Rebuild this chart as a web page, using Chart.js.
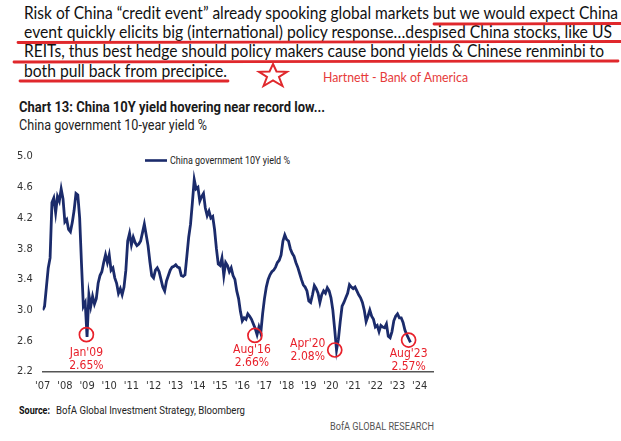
<!DOCTYPE html>
<html>
<head>
<meta charset="utf-8">
<script src="https://cdn.jsdelivr.net/npm/chart.js@4.4.0/dist/chart.umd.min.js"></script>
<style>
  body { margin: 0; width: 621px; height: 441px; background: #fff; position: relative; overflow: hidden; }
  #page { position: absolute; left: 0; top: 0; }
  #chartBox { position: absolute; left: 0; top: 140px; width: 621px; height: 260px; }
</style>
</head>
<body>
<svg id="page" width="621" height="441" xmlns="http://www.w3.org/2000/svg">
  <g font-family="Lato, 'Open Sans', sans-serif" font-size="18" fill="#111">
    <text x="24" y="18.5" textLength="594" lengthAdjust="spacingAndGlyphs">Risk of China “credit event” already spooking global markets but we would expect China</text>
    <text x="24" y="37.8" textLength="588" lengthAdjust="spacingAndGlyphs">event quickly elicits big (international) policy response…despised China stocks, like US</text>
    <text x="24" y="57.2" textLength="580" lengthAdjust="spacingAndGlyphs">REITs, thus best hedge should policy makers cause bond yields &amp; Chinese renminbi to</text>
    <text x="24" y="76.5" textLength="203" lengthAdjust="spacingAndGlyphs">both pull back from precipice.</text>
  </g>
  <g stroke="#e0282c" stroke-width="2.8" stroke-linecap="round">
    <line x1="434" y1="24" x2="621" y2="23.5"/>
    <line x1="18" y1="42.5" x2="621" y2="41.5"/>
    <line x1="14" y1="62" x2="618" y2="61"/>
    <line x1="20" y1="81" x2="228" y2="81"/>
  </g>
  <polygon points="273,64 276.5,71.5 287,71.8 279,77 282.5,86 273,80.5 263.5,86 267,77 259,71.8 269.5,71.5"
           fill="none" stroke="#e0282c" stroke-width="2"/>
  <text x="323" y="81.5" font-family="Lato, sans-serif" font-size="13" fill="#e63a3a" textLength="145" lengthAdjust="spacingAndGlyphs">Hartnett - Bank of America</text>

  <text x="19" y="111.7" font-family="Roboto, 'Liberation Sans', sans-serif" font-weight="bold" font-size="14" fill="#1a1a1a" textLength="306" lengthAdjust="spacingAndGlyphs">Chart 13: China 10Y yield hovering near record low...</text>
  <text x="19" y="130" font-family="Roboto, 'Liberation Sans', sans-serif" font-size="14" fill="#222" textLength="188" lengthAdjust="spacingAndGlyphs">China government 10-year yield %</text>

  <line x1="145" y1="160.5" x2="167" y2="160.5" stroke="#1b2b6b" stroke-width="2.6"/>
  <text x="170" y="164.3" font-family="Roboto, sans-serif" font-size="11" fill="#222" textLength="120" lengthAdjust="spacingAndGlyphs">China government 10Y yield %</text>

  <text x="19" y="414" font-family="Roboto, sans-serif" font-weight="bold" font-size="11" fill="#111" textLength="31" lengthAdjust="spacingAndGlyphs">Source:</text>
  <text x="56" y="414" font-family="Roboto, sans-serif" font-size="11" fill="#222" textLength="189" lengthAdjust="spacingAndGlyphs">BofA Global Investment Strategy, Bloomberg</text>
  <text x="330" y="430" font-family="Roboto, sans-serif" font-size="11" fill="#555" textLength="104" lengthAdjust="spacingAndGlyphs">BofA GLOBAL RESEARCH</text>
</svg>
<div id="chartBox"><canvas id="c" width="621" height="260"></canvas></div>
<script>
// monthly China 10Y yields (%)
const y2007 = [3.00, 3.05, 3.30, 3.55, 3.68, 4.40, 4.46, 4.27, 4.48, 4.42, 4.58, 4.45];
const y2008 = [4.15, 4.18, 4.05, 4.02, 4.14, 4.30, 4.52, 4.50, 4.20, 3.60, 3.05, 3.10];
const y2009 = [2.65, 3.20, 3.05, 3.18, 3.08, 3.15, 3.35, 3.45, 3.50, 3.62, 3.72, 3.62];
const y2010 = [3.72, 3.52, 3.55, 3.42, 3.35, 3.22, 3.28, 3.20, 3.30, 3.52, 3.90, 4.00];
const y2011 = [3.85, 3.95, 3.88, 3.84, 3.86, 3.90, 4.01, 4.12, 3.98, 3.84, 3.63, 3.45];
const y2012 = [3.42, 3.52, 3.55, 3.50, 3.40, 3.30, 3.25, 3.38, 3.45, 3.52, 3.56, 3.57];
const y2013 = [3.59, 3.56, 3.55, 3.45, 3.44, 3.46, 3.70, 3.95, 4.12, 4.40, 4.70, 4.58];
const y2014 = [4.60, 4.42, 4.48, 4.52, 4.33, 4.23, 4.29, 4.20, 4.22, 4.05, 3.80, 3.60];
const y2015 = [3.58, 3.68, 3.45, 3.62, 3.58, 3.50, 3.55, 3.45, 3.40, 3.25, 3.15, 2.98];
const y2016 = [2.86, 2.90, 2.88, 2.95, 2.92, 2.88, 2.82, 2.76, 2.68, 2.78, 2.70, 2.95];
const y2017 = [3.15, 3.30, 3.40, 3.46, 3.50, 3.52, 3.56, 3.62, 3.65, 3.72, 3.90, 3.98];
const y2018 = [3.92, 3.90, 3.80, 3.74, 3.70, 3.62, 3.56, 3.48, 3.40, 3.33, 3.30, 3.25];
const y2019 = [3.12, 3.10, 3.20, 3.32, 3.28, 3.22, 3.10, 3.20, 3.25, 3.22, 3.29, 3.25];
const y2020 = [3.16, 3.00, 2.75, 2.48, 2.62, 2.85, 3.05, 3.10, 3.16, 3.22, 3.33, 3.30];
const y2021 = [3.28, 3.30, 3.25, 3.20, 3.16, 3.10, 3.00, 2.85, 2.92, 3.00, 2.92, 2.88];
const y2022 = [2.78, 2.80, 2.72, 2.80, 2.78, 2.77, 2.82, 2.66, 2.64, 2.72, 2.86, 2.92];
const y2023 = [2.95, 2.90, 2.90, 2.84, 2.74, 2.68, 2.63, 2.58];

const years = [2007, 2008, 2009, 2010, 2011, 2012, 2013, 2014, 2015, 2016, 2017, 2018, 2019, 2020, 2021, 2022, 2023];
const yearValues = [y2007, y2008, y2009, y2010, y2011, y2012, y2013, y2014, y2015, y2016, y2017, y2018, y2019, y2020, y2021, y2022, y2023];

const xTicks = [2007, 2008, 2009, 2010, 2011, 2012, 2013, 2014, 2015, 2016, 2017, 2018, 2019, 2020, 2021, 2022, 2023, 2024];
const xTickLabels = ["'07", "'08", "'09", "'10", "'11", "'12", "'13", "'14", "'15", "'16", "'17", "'18", "'19", "'20", "'21", "'22", "'23", "'24"];
const yTicks = [2.2, 2.6, 3.0, 3.4, 3.8, 4.2, 4.6, 5.0];

// marked lows
const lowNames = ["Jan'09", "Aug'16", "Apr'20", "Aug'23"];
const lowTexts = ['2.65%', '2.66%', '2.08%', '2.57%'];
const lowDates = [2008.97, 2016.57, 2020.17, 2023.5];
const lowLevels = [2.68, 2.67, 2.48, 2.61];
const lowLabelShift = [[0, 18], [-3, 14], [-27, -6], [0, 13.5]];

const points = [];
years.forEach((yr, i) => {
    yearValues[i].forEach((v, m) => points.push({ x: yr + m / 12, y: v }));
});

const condensed = "'Liberation Sans Narrow', 'DejaVu Sans Condensed', Roboto, sans-serif";

const lowMarks = {
    id: 'lowMarks',
    afterDatasetsDraw(chart) {
        const { ctx, scales } = chart;
        ctx.save();
        lowNames.forEach((name, i) => {
            const px = scales.x.getPixelForValue(lowDates[i]);
            const py = scales.y.getPixelForValue(lowLevels[i]);
            ctx.strokeStyle = '#e8202a';
            ctx.lineWidth = 1.7;
            ctx.beginPath();
            ctx.arc(px, py, 7, 0, Math.PI * 2);
            ctx.stroke();
            ctx.fillStyle = '#e8202a';
            ctx.font = '12px ' + condensed;
            ctx.textAlign = 'center';
            ctx.textBaseline = 'middle';
            const tx = px + lowLabelShift[i][0];
            const ty = py + lowLabelShift[i][1];
            ctx.fillText(name, tx, ty);
            ctx.fillText(lowTexts[i], tx, ty + 13);
        });
        ctx.restore();
    }
};

const ctx = document.getElementById('c').getContext('2d');
const chart = new Chart(ctx, {
    type: 'line',
    data: {
        datasets: [{
            label: 'China government 10Y yield %',
            data: points,
            borderColor: '#1b2b6b',
            borderWidth: 2.8,
            pointRadius: 0,
            tension: 0
        }]
    },
    options: {
        responsive: false,
        animation: false,
        layout: { padding: { top: 13, right: 188, left: 0, bottom: 0 } },
        plugins: {
            legend: { display: false },
            tooltip: { enabled: false }
        },
        scales: {
            x: {
                type: 'linear',
                min: 2007,
                max: 2024.6,
                grid: { display: false, drawTicks: false },
                border: { color: '#555', width: 1.5 },
                afterBuildTicks: s => { s.ticks = xTicks.map(v => ({ value: v })); },
                afterFit: s => { s.height = 28.5; },
                ticks: {
                    autoSkip: false,
                    maxRotation: 0,
                    padding: 8,
                    color: '#333',
                    font: { family: condensed, size: 11 },
                    callback: (v, i) => xTickLabels[i]
                }
            },
            y: {
                min: 2.2,
                max: 5.0,
                grid: { display: false, drawTicks: false },
                border: { display: false },
                afterBuildTicks: s => { s.ticks = yTicks.map(v => ({ value: v })); },
                afterFit: s => { s.width = 42.7; },
                ticks: {
                    padding: 10,
                    color: '#333',
                    font: { family: condensed, size: 11 },
                    callback: v => v.toFixed(1)
                }
            }
        }
    },
    plugins: [lowMarks]
});
</script>
</body>
</html>
